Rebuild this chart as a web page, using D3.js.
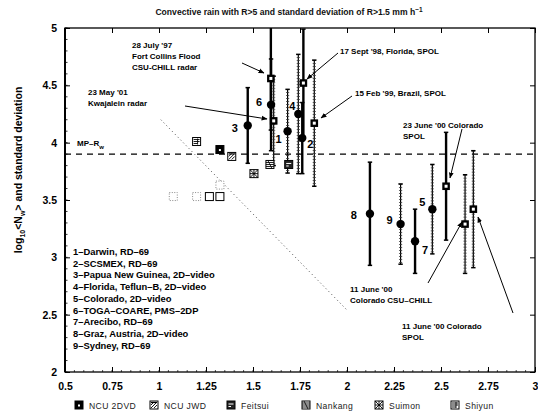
<!DOCTYPE html>
<html>
<head>
<meta charset="utf-8">
<script src="https://cdn.jsdelivr.net/npm/d3@7/dist/d3.min.js"></script>
<style>
  html, body { margin: 0; padding: 0; background: #fff; }
  svg { display: block; font-family: "Liberation Sans", Arial, Helvetica, sans-serif; }
</style>
</head>
<body>
<svg id="chart" width="538" height="419"></svg>
<script>
// Axis ticks
const xTicks = [0.5, 0.75, 1, 1.25, 1.5, 1.75, 2, 2.25, 2.5, 2.75, 3];
const xTickLabels = ["0.5", "0.75", "1", "1.25", "1.5", "1.75", "2", "2.25", "2.5", "2.75", "3"];
const yTicks = [2, 2.5, 3, 3.5, 4, 4.5, 5];
const yTickLabels = ["2", "2.5", "3", "3.5", "4", "4.5", "5"];

// Disdrometer sites (filled circles): id, mean Dm, mean log10 Nw, std dev, bar style
const siteIds = ["1", "2", "3", "4", "5", "6", "7", "8", "9"];
const siteDm = [1.684, 1.762, 1.472, 1.741, 2.454, 1.596, 2.362, 2.122, 2.285];
const siteNw = [4.10, 4.04, 4.15, 4.25, 3.42, 4.33, 3.14, 3.38, 3.29];
const siteSd = [0.365, 0.31, 0.33, 0.52, 0.39, 0.40, 0.28, 0.45, 0.35];
const siteBar = ["ladder", "solid", "solid", "ladder", "ladder", "solid", "solid", "solid", "ladder"];

// Polarimetric radar cases (squares)
const radarCases = ["28 July '97 CSU-CHILL", "23 May '01 Kwajalein", "17 Sept '98 SPOL",
  "15 Feb '99 SPOL", "23 June '00 SPOL", "11 June '00 CSU-CHILL", "11 June '00 SPOL"];
const radarDm = [1.595, 1.61, 1.768, 1.826, 2.527, 2.628, 2.672];
const radarNw = [4.56, 4.19, 4.52, 4.17, 3.62, 3.29, 3.42];
const radarSd = [0.45, 0.39, 0.47, 0.55, 0.47, 0.43, 0.51];
const radarBar = ["solid", "ladder", "solid", "ladder", "solid", "ladder", "ladder"];

// Taiwan stations (patterned squares, no error bars)
const stationNames = ["NCU 2DVD", "NCU JWD", "Feitsui", "Nankang", "Suimon", "Shiyun"];
const stationDm = [1.324, 1.387, 1.69, 1.59, 1.505, 1.20];
const stationNw = [3.94, 3.88, 3.81, 3.81, 3.73, 4.01];

// Open squares
const openDm = [1.324, 1.268, 1.324, 1.20, 1.076];
const openNw = [3.53, 3.53, 3.63, 3.53, 3.53];

// Marshall–Palmer reference value and the stratiform/convective separator line
const mpNw = 3.9;
const sepDm = [1.01, 2.0];
const sepNw = [4.2, 2.54];

const siteLegend = [
  "1–Darwin, RD–69",
  "2–SCSMEX, RD–69",
  "3–Papua New Guinea, 2D–video",
  "4–Florida, Teflun–B, 2D–video",
  "5–Colorado, 2D–video",
  "6–TOGA–COARE, PMS–2DP",
  "7–Arecibo, RD–69",
  "8–Graz, Austria, 2D–video",
  "9–Sydney, RD–69"
];

const svg = d3.select("#chart");
const L = 65, R = 535, T = 28, B = 372;
const x = d3.scaleLinear().domain([0.5, 3]).range([L, R]);
const y = d3.scaleLinear().domain([2, 5]).range([B, T]);

svg.append("defs").append("clipPath").attr("id", "plotclip")
  .append("rect").attr("x", L).attr("y", T).attr("width", R - L).attr("height", B - T);
const defs = svg.select("defs");
defs.append("marker").attr("id", "arrow").attr("viewBox", "0 0 10 10")
  .attr("refX", 9).attr("refY", 5).attr("markerWidth", 6).attr("markerHeight", 6)
  .attr("markerUnits", "userSpaceOnUse").attr("orient", "auto")
  .append("path").attr("d", "M0,1 L10,5 L0,9 Z").attr("fill", "#000");

// Title
const title = svg.append("text").attr("x", 289).attr("y", 15).attr("text-anchor", "middle")
  .attr("font-size", 8.6).attr("font-weight", "bold").attr("fill", "#111");
title.append("tspan").text("Convective rain with R>5 and standard deviation of R>1.5 mm h");
title.append("tspan").attr("dy", -3.5).attr("font-size", 6.5).text("−1");

// Axes
const fmtX = (d) => xTickLabels[xTicks.indexOf(d)];
const fmtY = (d) => yTickLabels[yTicks.indexOf(d)];
const gx = svg.append("g").attr("transform", `translate(0,${B})`)
  .call(d3.axisBottom(x).tickValues(xTicks).tickFormat(fmtX).tickSizeInner(-5).tickSizeOuter(0).tickPadding(11));
const gxt = svg.append("g").attr("transform", `translate(0,${T})`)
  .call(d3.axisTop(x).tickValues(xTicks).tickFormat("").tickSizeInner(-5).tickSizeOuter(0));
const gy = svg.append("g").attr("transform", `translate(${L},0)`)
  .call(d3.axisLeft(y).tickValues(yTicks).tickFormat(fmtY).tickSizeInner(-5).tickSizeOuter(0).tickPadding(8));
const gyr = svg.append("g").attr("transform", `translate(${R},0)`)
  .call(d3.axisRight(y).tickValues(yTicks).tickFormat("").tickSizeInner(-5).tickSizeOuter(0));
[gx, gxt, gy, gyr].forEach(g => {
  g.select(".domain").remove();
  g.selectAll(".tick line").attr("stroke", "#000").attr("stroke-width", 1);
  g.selectAll("text").attr("font-size", 10.5).attr("font-weight", "bold").attr("fill", "#000")
    .attr("font-family", "Liberation Sans, Arial, sans-serif");
});

// Minor ticks on the left axis
svg.append("g").selectAll("line").data(d3.range(2, 5.001, 0.1)).join("line")
  .attr("x1", L).attr("x2", L + 2.5).attr("y1", d => y(d)).attr("y2", d => y(d))
  .attr("stroke", "#000").attr("stroke-width", 0.8);
// Minor ticks along the bottom
svg.append("g").selectAll("line").data(d3.range(0.5, 3.001, 0.05)).join("line")
  .attr("x1", d => x(d)).attr("x2", d => x(d)).attr("y1", B).attr("y2", B - 2)
  .attr("stroke", "#000").attr("stroke-width", 0.7);

// Frame
svg.append("rect").attr("x", L).attr("y", T).attr("width", R - L).attr("height", B - T)
  .attr("fill", "none").attr("stroke", "#000").attr("stroke-width", 1.3);
svg.append("line").attr("x1", L).attr("x2", L).attr("y1", T).attr("y2", B)
  .attr("stroke", "#000").attr("stroke-width", 2);

// Y-axis title
const ylab = svg.append("text").attr("transform", "translate(22,170) rotate(-90)")
  .attr("text-anchor", "middle").attr("font-size", 10.5).attr("font-weight", "bold").attr("fill", "#000");
ylab.append("tspan").text("log");
ylab.append("tspan").attr("dy", 3).attr("font-size", 7).text("10");
ylab.append("tspan").attr("dy", -3).text("<N");
ylab.append("tspan").attr("dy", 3).attr("font-size", 7).text("w");
ylab.append("tspan").attr("dy", -3).text("> and standard deviation");

const plot = svg.append("g").attr("clip-path", "url(#plotclip)");

// MP reference line
plot.append("line").attr("x1", L).attr("x2", R).attr("y1", y(mpNw)).attr("y2", y(mpNw))
  .attr("stroke", "#000").attr("stroke-width", 1.4).attr("stroke-dasharray", "6,5");
const mpLab = svg.append("text").attr("x", 77).attr("y", y(mpNw) - 8)
  .attr("font-size", 8).attr("font-weight", "bold").attr("fill", "#000");
mpLab.append("tspan").text("MP–R");
mpLab.append("tspan").attr("dy", 3).attr("font-size", 6).text("w");

// Separator line (dotted)
plot.append("line").attr("x1", x(sepDm[0])).attr("y1", y(sepNw[0]))
  .attr("x2", x(sepDm[1])).attr("y2", y(sepNw[1]))
  .attr("stroke", "#333").attr("stroke-width", 0.9).attr("stroke-dasharray", "1,3");

// Error bars
function errorBar(g, cx, m, sd, style) {
  const y1 = y(m + sd), y2 = y(m - sd), px = x(cx);
  if (style === "solid") {
    g.append("line").attr("x1", px).attr("x2", px).attr("y1", y1).attr("y2", y2)
      .attr("stroke", "#000").attr("stroke-width", 2.4);
  } else {
    g.append("line").attr("x1", px).attr("x2", px).attr("y1", y1).attr("y2", y2)
      .attr("stroke", "#000").attr("stroke-width", 1.2);
    g.append("line").attr("x1", px).attr("x2", px).attr("y1", y1).attr("y2", y2)
      .attr("stroke", "#333").attr("stroke-width", 3.2).attr("stroke-dasharray", "0.7,2.3");
  }
  [y1, y2].forEach(yy => g.append("line").attr("x1", px - 2.2).attr("x2", px + 2.2)
    .attr("y1", yy).attr("y2", yy).attr("stroke", "#000").attr("stroke-width", 1.5));
}
const bars = plot.append("g");
siteIds.forEach((id, i) => errorBar(bars, siteDm[i], siteNw[i], siteSd[i], siteBar[i]));
radarCases.forEach((c, i) => errorBar(bars, radarDm[i], radarNw[i], radarSd[i], radarBar[i]));

// Open squares
svg.append("g").selectAll("rect").data(openDm).join("rect")
  .attr("x", (d) => x(d) - 4).attr("y", (d, i) => y(openNw[i]) - 4)
  .attr("width", 8).attr("height", 8).attr("fill", "#fff")
  .attr("stroke", (d, i) => i < 2 ? "#000" : "#888").attr("stroke-width", 1)
  .attr("stroke-dasharray", (d, i) => i < 2 ? null : "1,1.5");

// Taiwan station markers
function station(g, name, cx, cy) {
  const s = 8, x0 = cx - s / 2, y0 = cy - s / 2;
  const grp = g.append("g");
  const sq = (fill) => grp.append("rect").attr("x", x0).attr("y", y0).attr("width", s).attr("height", s)
    .attr("fill", fill).attr("stroke", "#000").attr("stroke-width", 1);
  const ln = (a, b, c, d, w, col) => grp.append("line").attr("x1", x0 + a).attr("y1", y0 + b)
    .attr("x2", x0 + c).attr("y2", y0 + d).attr("stroke", col || "#000").attr("stroke-width", w || 0.9);
  if (name === "NCU 2DVD") {
    sq("#000");
    grp.append("rect").attr("x", cx - 1).attr("y", cy - 0.5).attr("width", 2).attr("height", 2).attr("fill", "#fff");
  } else if (name === "NCU JWD") {
    sq("#fff");
    ln(1, 7, 7, 1); ln(1, 4, 4, 1); ln(4, 7, 7, 4); ln(1, 1.5, 7, 1.5, 1.2);
  } else if (name === "Feitsui") {
    sq("#222");
    ln(1.5, 3, 6.5, 3, 1, "#fff"); ln(1.5, 5.5, 4, 5.5, 1, "#fff");
  } else if (name === "Nankang") {
    sq("#fff");
    ln(0, 2, 8, 2); ln(0, 4, 8, 4); ln(0, 6, 8, 6); ln(2, 0, 6, 8, 0.8);
  } else if (name === "Suimon") {
    sq("#fff");
    ln(0, 0, 8, 8); ln(8, 0, 0, 8); ln(4, 0, 4, 8); ln(0, 4, 8, 4);
  } else {
    sq("#fff");
    ln(1, 2, 7, 2); ln(1, 4, 7, 4); ln(1, 6, 5, 6); ln(5, 1, 5, 7);
  }
}
const st = svg.append("g");
stationNames.forEach((n, i) => station(st, n, x(stationDm[i]), y(stationNw[i])));

// Site circles
svg.append("g").selectAll("circle").data(siteIds).join("circle")
  .attr("cx", (d, i) => x(siteDm[i])).attr("cy", (d, i) => y(siteNw[i])).attr("r", 4.2)
  .attr("fill", "#000");

// Radar squares
const rq = svg.append("g").selectAll("g").data(radarCases).join("g")
  .attr("transform", (d, i) => `translate(${x(radarDm[i])},${y(radarNw[i])})`);
rq.append("rect").attr("x", -3.8).attr("y", -3.8).attr("width", 7.6).attr("height", 7.6)
  .attr("fill", "#000");
rq.append("rect").attr("x", -1.5).attr("y", -1.5).attr("width", 3).attr("height", 3)
  .attr("fill", "#fff");

// Site id labels next to the circles
const siteLabelOffset = {
  "1": [-9, 8], "2": [8, 6], "3": [-13, 3], "4": [-6, -8], "5": [-10, -7],
  "6": [-12, -3], "7": [10, 9], "8": [-16, 1], "9": [-11, -4]
};
svg.append("g").selectAll("text").data(siteIds).join("text")
  .attr("x", (d, i) => x(siteDm[i]) + siteLabelOffset[d][0])
  .attr("y", (d, i) => y(siteNw[i]) + siteLabelOffset[d][1] + 4)
  .attr("text-anchor", "middle").attr("font-size", 11).attr("font-weight", "bold")
  .attr("fill", "#000").text(d => d);

// Case annotations with arrows
const notes = [
  { lines: ["28 July '97", "Fort Collins Flood", "CSU-CHILL radar"], tx: 132, ty: 48, from: [242, 63], to: [264, 73] },
  { lines: ["23 May '01", "Kwajalein radar"], tx: 88, ty: 95, from: [185, 106], to: [267, 119] },
  { lines: ["17 Sept '98, Florida, SPOL"], tx: 340, ty: 54, from: [338, 53], to: [307, 79] },
  { lines: ["15 Feb '99, Brazil, SPOL"], tx: 355, ty: 96, from: [352, 96], to: [321, 118] },
  { lines: ["23 June '00 Colorado", "SPOL"], tx: 403, ty: 128, from: [462, 129], to: [450, 178] },
  { lines: ["11 June '00", "Colorado CSU–CHILL"], tx: 350, ty: 292, from: [428, 283], to: [462, 222] },
  { lines: ["11 June '00 Colorado", "SPOL"], tx: 402, ty: 329, from: [513, 313], to: [478, 217] }
];
const ng = svg.append("g");
notes.forEach(n => {
  const t = ng.append("text").attr("x", n.tx).attr("y", n.ty).attr("font-size", 8)
    .attr("font-weight", "bold").attr("fill", "#000");
  n.lines.forEach((s, k) => t.append("tspan").attr("x", n.tx).attr("dy", k === 0 ? 0 : 11).text(s));
  ng.append("line").attr("x1", n.from[0]).attr("y1", n.from[1]).attr("x2", n.to[0]).attr("y2", n.to[1])
    .attr("stroke", "#000").attr("stroke-width", 1).attr("marker-end", "url(#arrow)");
});

// Site list
const lt = svg.append("text").attr("x", 73).attr("y", 255).attr("font-size", 9.4)
  .attr("font-weight", "bold").attr("fill", "#000");
siteLegend.forEach((s, k) => lt.append("tspan").attr("x", 73).attr("dy", k === 0 ? 0 : 11.7).text(s));

// Bottom legend for station markers
const legX = [79, 154, 231, 306, 379, 455];
const lg = svg.append("g");
stationNames.forEach((n, i) => {
  station(lg, n, legX[i], 405);
  lg.append("text").attr("x", legX[i] + 10).attr("y", 408.5).attr("font-size", 8.6)
    .attr("fill", "#222").attr("letter-spacing", 0.4).text(n);
});
</script>
</body>
</html>
